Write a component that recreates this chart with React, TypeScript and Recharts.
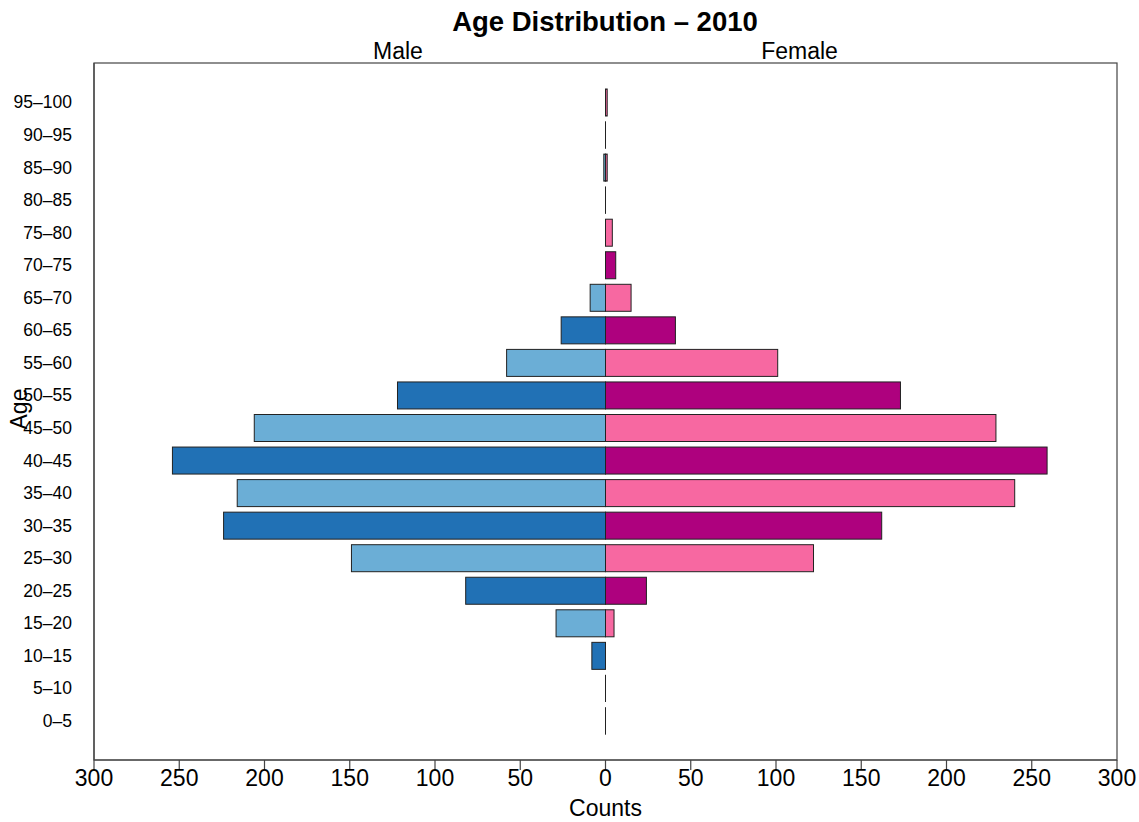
import { BarChart, Bar, XAxis, YAxis } from 'recharts';

const ageGroups = ['0–5', '5–10', '10–15', '15–20', '20–25', '25–30', '30–35', '35–40', '40–45', '45–50',
  '50–55', '55–60', '60–65', '65–70', '70–75', '75–80', '80–85', '85–90', '90–95', '95–100'];
const maleCounts = [0, 0, 8, 29, 82, 149, 224, 216, 254, 206, 122, 58, 26, 9, 0, 0, 0, 1, 0, 0];
const femaleCounts = [0, 0, 0, 5, 24, 122, 162, 240, 259, 229, 173, 101, 41, 15, 6, 4, 0, 1, 0, 1];
const xTicks = [-300, -250, -200, -150, -100, -50, 0, 50, 100, 150, 200, 250, 300];

const maleColors = ['#2171b5', '#6baed6'];
const femaleColors = ['#ae017e', '#f768a1'];

const data = ageGroups.map((age, i) => ({ age, male: -maleCounts[i], female: femaleCounts[i] }));

const font = '"Liberation Sans", Arial, Helvetica, sans-serif';
const boxColor = '#444';

function makeShape(colors: string[]) {
  return (props: any) => {
    const { x, y, width, height, index } = props;
    const x0 = width < 0 ? x + width : x;
    const w = Math.abs(width || 0);
    if (w < 0.01) {
      return <line x1={x} x2={x} y1={y} y2={y + height} stroke="#222" strokeWidth={1} />;
    }
    return <rect x={x0} y={y} width={w} height={height} fill={colors[index % 2]} stroke="#222" strokeWidth={1} />;
  };
}

export default function App() {
  return (
    <div style={{ position: 'absolute', left: 0, top: 0, width: 1139, height: 822, background: '#fff' }}>
      <BarChart
        width={1139}
        height={822}
        data={data}
        layout="vertical"
        stackOffset="sign"
        barSize={27}
        margin={{ top: 63, right: 22, bottom: 0, left: 0 }}
      >
        <XAxis
          type="number"
          domain={[-300, 300]}
          ticks={xTicks}
          tickFormatter={(v: number) => String(Math.abs(v))}
          height={62}
          tickSize={10}
          tickMargin={0}
          axisLine={{ stroke: boxColor, strokeWidth: 1.2 }}
          tickLine={{ stroke: boxColor, strokeWidth: 1.2 }}
          tick={{ fill: '#000', fontSize: 23, fontFamily: font }}
          interval={0}
          allowDataOverflow
        />
        <YAxis
          type="category"
          dataKey="age"
          reversed
          width={94}
          padding={{ top: 23, bottom: 23 }}
          tickSize={18}
          tickMargin={4}
          tickLine={false}
          axisLine={{ stroke: boxColor, strokeWidth: 1.2 }}
          tick={{ fill: '#000', fontSize: 17.5, fontFamily: font }}
          interval={0}
        />
        <Bar dataKey="male" stackId="pyramid" shape={makeShape(maleColors)} isAnimationActive={false} />
        <Bar dataKey="female" stackId="pyramid" shape={makeShape(femaleColors)} isAnimationActive={false} />
      </BarChart>
      <svg width={1139} height={822} style={{ position: 'absolute', left: 0, top: 0, pointerEvents: 'none' }}>
        {/* plot box */}
        <rect x={94} y={63} width={1023} height={697} fill="none" stroke={boxColor} strokeWidth={1.2} />
        <text x={605} y={31} textAnchor="middle" fontFamily={font} fontWeight="bold" fontSize={27.5}>
          Age Distribution – 2010
        </text>
        <text x={398} y={59} textAnchor="middle" fontFamily={font} fontSize={23}>Male</text>
        <text x={799.5} y={59} textAnchor="middle" fontFamily={font} fontSize={23}>Female</text>
        <text x={605.5} y={816} textAnchor="middle" fontFamily={font} fontSize={23}>Counts</text>
        <text x={27} y={409} textAnchor="middle" fontFamily={font} fontSize={23} transform="rotate(-90 27 409)">
          Age
        </text>
      </svg>
    </div>
  );
}
